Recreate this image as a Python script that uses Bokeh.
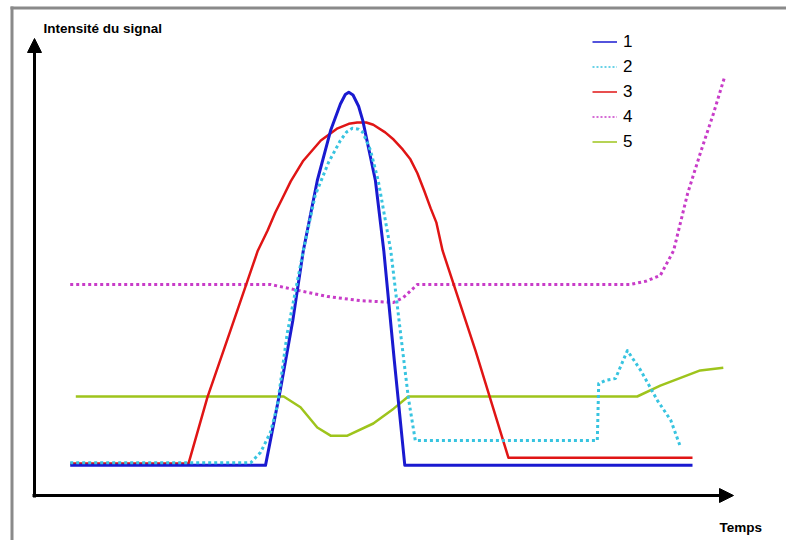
from bokeh.plotting import figure
from bokeh.models import Range1d, Arrow, NormalHead, Label, Legend, LegendItem, BoxAnnotation
from bokeh.embed import file_html
from bokeh.resources import INLINE

# ---------------- data (time units, intensity units) ----------------
t1 = [5.1, 33.0, 35.1, 36.9, 38.4, 40.4, 42.3, 43.7, 44.4, 44.9, 45.5, 46.3, 46.9, 48.7, 49.9, 51.4, 52.9, 94.0]
i1 = [6.7, 6.7, 23.3, 38.9, 54.4, 70.0, 81.1, 87.0, 89.1, 89.6, 89.0, 86.5, 83.3, 70.0, 54.4, 30.0, 6.7, 6.7]

t2 = [5.1, 30.9, 32.3, 33.7, 34.7, 36.1, 38.4, 40.1, 42.0, 43.7, 44.6, 45.4, 46.3, 46.9, 48.0, 49.1, 50.9,
      52.3, 53.4, 54.4, 80.4, 80.6, 81.6, 83.0, 84.7, 86.6, 89.0, 90.9, 92.3]
i2 = [7.3, 7.3, 9.6, 14.0, 20.0, 36.0, 54.4, 66.7, 74.0, 78.9, 80.8, 81.6, 81.4, 80.7, 76.7, 70.0, 54.4,
      36.0, 21.8, 12.2, 12.2, 24.9, 25.6, 26.0, 32.2, 27.8, 21.1, 16.7, 10.7]

t3 = [5.1, 22.0, 24.7, 28.0, 31.9, 33.3, 34.4, 35.4, 36.6, 38.4, 40.9, 43.3, 44.9, 46.1, 47.4, 48.4,
      50.1, 51.3, 52.6, 53.7, 54.7, 55.7, 56.6, 57.4, 58.3, 63.0, 67.7, 94.0]
i3 = [7.1, 7.1, 21.8, 36.7, 54.4, 58.9, 62.9, 66.0, 69.8, 74.4, 78.9, 81.6, 82.6, 82.9, 82.9, 82.4,
      80.7, 79.1, 76.9, 74.7, 71.6, 67.6, 63.8, 60.7, 54.4, 32.2, 8.4, 8.4]

t4 = [5.1, 33.7, 37.0, 41.9, 46.6, 51.3, 52.7, 54.7, 85.1, 87.3, 89.4, 91.3, 93.3, 95.1, 97.0, 98.6]
i4 = [46.9, 46.9, 45.8, 44.2, 43.3, 42.9, 44.0, 46.9, 46.9, 47.6, 48.9, 54.4, 67.1, 76.0, 84.9, 93.1]

t5 = [5.9, 35.6, 38.0, 40.4, 42.3, 44.7, 48.4, 51.3, 53.4, 86.1, 89.4, 95.1, 98.4]
i5 = [22.0, 22.0, 19.6, 15.1, 13.3, 13.3, 16.0, 19.3, 22.0, 22.0, 24.4, 27.8, 28.4]

series_labels = ["1", "2", "3", "4", "5"]
x_title = "Temps"
y_title = "Intensité du signal"

# ---------------- layout / style ----------------
W, H = 786, 540
OX, OY = 34.0, 495.0      # axis origin in pixels (from top-left)
SX, SY = 7.0, 4.5         # pixels per data unit


def dx(px):
    return (px - OX) / SX


def dy(py):
    return (OY - py) / SY


p = figure(width=W, height=H,
           x_range=Range1d(dx(0), dx(W)), y_range=Range1d(dy(H), dy(0)),
           output_backend="svg", toolbar_location=None,
           x_axis_type=None, y_axis_type=None, min_border=0,
           outline_line_color=None, background_fill_color="white",
           border_fill_color="white")

# frame (top and left grey border)
p.add_layout(BoxAnnotation(left=dx(10), right=dx(W), top=dy(6), bottom=dy(9),
                           fill_color="#8a8a8a", fill_alpha=1, line_alpha=0))
p.add_layout(BoxAnnotation(left=dx(10), right=dx(13), top=dy(6), bottom=dy(H),
                           fill_color="#8a8a8a", fill_alpha=1, line_alpha=0))

# axes arrows
p.add_layout(Arrow(x_start=dx(32), y_start=0, x_end=dx(733), y_end=0, line_width=3,
                   line_color="black", start=None,
                   end=NormalHead(size=14, fill_color="black", line_color="black")))
p.add_layout(Arrow(x_start=0, y_start=dy(497), x_end=0, y_end=dy(38), line_width=3,
                   line_color="black", start=None,
                   end=NormalHead(size=14, fill_color="black", line_color="black")))

colors = ["#1a1ad0", "#38c4e0", "#e01515", "#c83cc8", "#9ec41c"]
dashes = ["solid", "3 3", "solid", "3 3", "solid"]
widths = [3, 3, 2.5, 3, 2.5]

data = [(t1, i1), (t2, i2), (t3, i3), (t4, i4), (t5, i5)]
order = [4, 3, 2, 0, 1]
for k in order:
    t, i = data[k]
    p.line(t, i, line_color=colors[k], line_width=widths[k], line_dash=dashes[k],
           line_join="round")

# legend (thin sample lines; renderers hold a single NaN so nothing is drawn in the plot)
nan = float("nan")
items = []
for k in range(5):
    r = p.line([nan], [nan], line_color=colors[k], line_width=1.5,
               line_dash=("2 2" if dashes[k] != "solid" else "solid"))
    items.append(LegendItem(label=series_labels[k], renderers=[r]))

legend = Legend(items=items, location=(592, 386), orientation="vertical",
                glyph_width=25, glyph_height=25, label_height=25, spacing=0,
                padding=0, margin=0, label_standoff=6,
                label_text_font="Liberation Sans", label_text_font_size="17px",
                label_text_color="black",
                border_line_alpha=0, background_fill_alpha=0)
p.add_layout(legend)

# titles
p.add_layout(Label(x=dx(43), y=dy(27.5), text=y_title, text_font="Liberation Sans",
                   text_font_style="bold", text_font_size="13.5px",
                   text_baseline="alphabetic", text_color="black"))
p.add_layout(Label(x=dx(719), y=dy(526.5), text=x_title, text_font="Liberation Sans",
                   text_font_style="bold", text_font_size="13.5px",
                   text_baseline="alphabetic", text_color="black"))

open("out.html", "w").write(file_html(p, INLINE))
